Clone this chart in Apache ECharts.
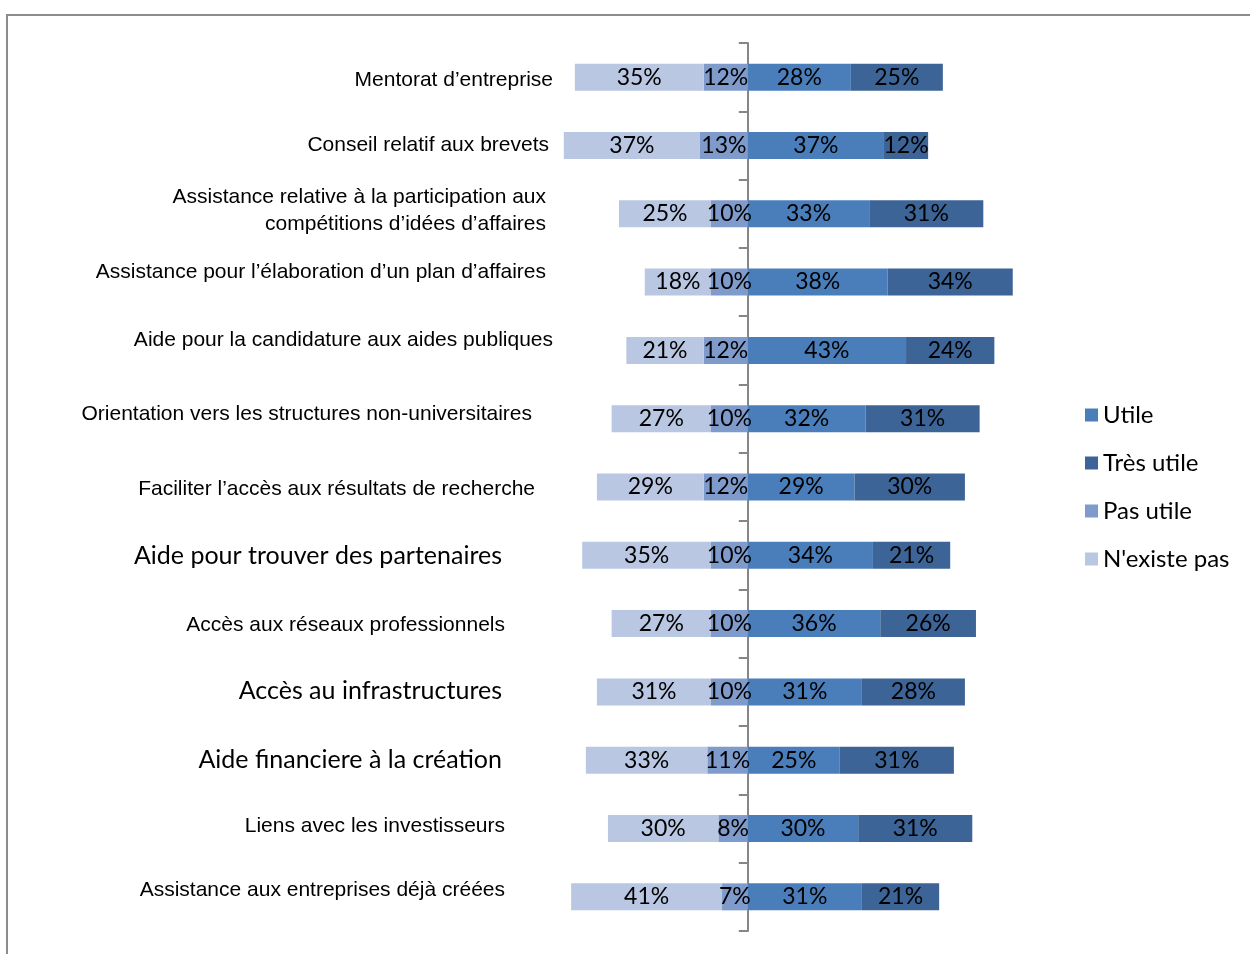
<!DOCTYPE html>
<html>
<head>
<meta charset="utf-8">
<script src="https://cdn.jsdelivr.net/npm/echarts@6/dist/echarts.min.js"></script>
<style>
  html, body { margin: 0; padding: 0; background: #fff; }
  #main { width: 1250px; height: 954px; }
</style>
</head>
<body>
<div id="main"></div>
<script>
// categories, top to bottom
var categories = [
  'Mentorat d\u2019entreprise',
  'Conseil relatif aux brevets',
  'Assistance relative \u00e0 la participation aux\ncomp\u00e9titions d\u2019id\u00e9es d\u2019affaires',
  'Assistance pour l\u2019\u00e9laboration d\u2019un plan d\u2019affaires',
  'Aide pour la candidature aux aides publiques',
  'Orientation vers les structures non-universitaires',
  'Faciliter l\u2019acc\u00e8s aux r\u00e9sultats de recherche',
  'Aide pour trouver des partenaires',
  'Acc\u00e8s aux r\u00e9seaux professionnels',
  'Acc\u00e8s au infrastructures',
  'Aide financiere \u00e0 la cr\u00e9ation',
  'Liens avec les investisseurs',
  'Assistance aux entreprises d\u00e9j\u00e0 cr\u00e9\u00e9es'
];

// values in %
var nExistePas = [35, 37, 25, 18, 21, 27, 29, 35, 27, 31, 33, 30, 41];
var pasUtile   = [12, 13, 10, 10, 12, 10, 12, 10, 10, 10, 11,  8,  7];
var utile      = [28, 37, 33, 38, 43, 32, 29, 34, 36, 31, 25, 30, 31];
var tresUtile  = [25, 12, 31, 34, 24, 31, 30, 21, 26, 28, 31, 31, 21];

// the category labels were loose text boxes, each a bit off
var labelShiftX = [0, 4, 7, 7, 0, 21, 18, 51, 48, 51, 51, 48, 48];
var labelShiftY = [-3, 0, 3, 10, 10, 4, -2, -1, -2, 1, 0, 2, 7]; // + = up
var labelFont   = ['a', 'a', 'a', 'a', 'a', 'a', 'a', 'c', 'a', 'c', 'c', 'a', 'a'];

var ARIAL = '"Liberation Sans", Arial, sans-serif';
var CALIBRI = 'Lato, "Open Sans", sans-serif';

var rich = {};
categories.forEach(function (c, i) {
  var dy = labelShiftY[i];
  var twoLines = c.indexOf('\n') >= 0;
  var padV = Math.abs(dy) * 2;
  rich['s' + i] = {
    fontFamily: labelFont[i] == 'c' ? CALIBRI : ARIAL,
    fontSize: labelFont[i] == 'c' ? 25 : 21,
    color: '#000',
    align: 'right',
    lineHeight: twoLines ? 27 : 26,
    padding: [dy < 0 ? padV : 0, labelShiftX[i], dy > 0 ? padV : 0, 0]
  };
});

function neg(arr) {
  return arr.map(function (v) { return -v; });
}

var barLabel = {
  show: true,
  position: 'inside',
  color: '#000',
  fontFamily: CALIBRI,
  fontSize: 23,
  formatter: function (p) { return Math.abs(p.value) + '%'; }
};

var chart = echarts.init(document.getElementById('main'));
var option = {
  animation: false,
  backgroundColor: '#fff',
  graphic: [{
    type: 'rect',
    shape: { x: 7, y: 15, width: 1300, height: 1000 },
    style: { fill: 'none', stroke: '#8c8c8c', lineWidth: 2 },
    silent: true
  }],
  legend: {
    orient: 'vertical',
    left: 1085,
    top: 403,
    padding: 0,
    itemWidth: 13,
    itemHeight: 13,
    itemGap: 24,
    icon: 'rect',
    textStyle: { fontFamily: CALIBRI, fontSize: 24, color: '#000', lineHeight: 24 },
    data: ['Utile', 'Tr\u00e8s utile', 'Pas utile', 'N\'existe pas']
  },
  grid: { left: 527, top: 43, width: 515.2, height: 888, containLabel: false, outerBoundsMode: 'none' },
  xAxis: {
    type: 'value',
    min: -60,
    max: 80,
    show: false
  },
  yAxis: {
    type: 'category',
    inverse: true,
    data: categories,
    axisLine: { onZero: true, lineStyle: { color: '#868686', width: 2 } },
    axisTick: { show: true, length: 9, lineStyle: { color: '#868686', width: 2 } },
    axisLabel: {
      interval: 0,
      margin: -26,
      formatter: function (value, index) {
        return '{s' + index + '|' + value + '}';
      },
      rich: rich
    },
    splitLine: { show: false }
  },
  series: [
    { name: 'Utile', type: 'bar', stack: 'tot', barWidth: 27, data: utile,
      itemStyle: { color: '#4A7EBB' }, label: barLabel },
    { name: 'Tr\u00e8s utile', type: 'bar', stack: 'tot', barWidth: 27, data: tresUtile,
      itemStyle: { color: '#3C6497' }, label: barLabel },
    { name: 'Pas utile', type: 'bar', stack: 'tot', barWidth: 27, data: neg(pasUtile),
      itemStyle: { color: '#7F9BCB' }, label: barLabel },
    { name: 'N\'existe pas', type: 'bar', stack: 'tot', barWidth: 27, data: neg(nExistePas),
      itemStyle: { color: '#B9C7E2' }, label: barLabel }
  ]
};
chart.setOption(option);
</script>
</body>
</html>
